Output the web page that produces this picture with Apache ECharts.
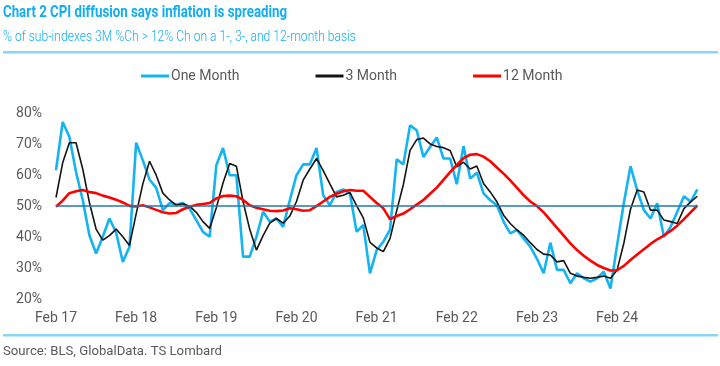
<!DOCTYPE html>
<html><head><meta charset="utf-8">
<script src="https://cdn.jsdelivr.net/npm/echarts@6/dist/echarts.min.js"></script>
<style>html,body{margin:0;padding:0;background:#fff}#c{width:720px;height:366px}</style>
</head><body><div id="c"></div>
<script>
// ---- data ----
const monthNames = ['Jan','Feb','Mar','Apr','May','Jun','Jul','Aug','Sep','Oct','Nov','Dec'];
const categories = [];
for (let k = 0; k < 97; k++) {
  categories.push(monthNames[(1 + k) % 12] + ' ' + (17 + Math.floor((1 + k) / 12)));
}
const seriesNames = ['One Month', '3 Month', '12 Month'];
const oneMonth = [
  61.6,77.2,72.4,61,52,40.6,34.7,40.1,46,41.5,32,36.9,
  70.5,64.8,58.6,55.9,48.7,51,50.5,51,49.2,45.5,41.7,40.1,
  63.2,68.8,60,60,33.7,33.7,40.1,48.2,45,46,43.3,51.9,
  60,63.5,63.5,68.8,53.5,50.3,54.6,55.4,54.1,41.7,43.9,28.3,
  35.8,38.5,42.3,65.1,63.5,76.1,74.5,65.9,69.1,72.2,65.4,65.4,
  57.1,69.4,58.9,60.8,54.1,51.9,50.3,45,41.2,42.3,39.6,36.9,
  33,28.3,38.2,29.4,29.4,25.1,28.3,26.7,25.6,26.7,28.8,23.4,
  37.5,51,62.9,55.2,48.7,46,50.9,40.1,43.3,48.2,53.2,51.4,
  55.4
];
const threeMonth = [
  52.8,64,70.5,70.5,62,51.2,42.6,39,40.5,42.6,40.1,37.3,
  47.5,57.2,64.5,60,54.2,52,50.3,50.8,50,48,45,42.8,
  49.5,57.5,63.8,62.9,51.5,42.5,35.8,40.5,44.5,46,44.5,46.8,
  51.5,58.4,62,65.4,61.5,57.2,53,53.5,54.4,50.2,46.2,38.3,
  36.5,35.3,39.5,48.5,57,68,71.5,72,70.1,69.3,68.9,68,
  62.7,64.2,62,63,57.3,54.6,51.4,47.1,44.4,42.3,40.6,38.2,
  36,34.5,34.2,32,32.4,28.3,27.4,27,26.7,27,27.4,26.7,
  29.4,38,49,55.2,54.6,48.7,48.7,45.5,45,44.4,49.2,51.4,
  53.2
];
const twelveMonth = [
  49.8,51.8,54.2,54.8,55.2,54.6,54.2,53.4,52.8,52.1,51.2,50.1,
  49.9,50.3,49.6,48.8,48,47.6,47.8,49,49.8,50.4,50.7,51,
  52.5,53.3,53.4,53.2,52,50.3,49.5,49,48.5,48.4,48.6,49.3,
  49,48.5,48.7,50,51.5,53,54,54.8,55.2,55,55,53,
  51,49.3,45.8,46.8,47.6,49,50.5,52,54,56,58.5,61,
  63.3,65.5,66.6,66.8,66,64.5,62.5,60.5,58.3,56,53.5,51.5,
  50,48,45.5,43,40.5,38,35.8,34,32.4,31,30,29.2,
  29.3,30.7,32.6,34.4,36.1,37.8,39.3,40.5,42,43.7,45.8,48,
  50.2
];
const yTicks = { min: 20, max: 80, interval: 10 };
const titleText = 'Chart 2 CPI diffusion says inflation is spreading';
const subtitleText = '% of sub-indexes 3M %Ch > 12% Ch on a 1-, 3-, and 12-month basis';
const sourceText = 'Source: BLS, GlobalData. TS Lombard';

// ---- helpers ----
const ctx = document.createElement('canvas').getContext('2d');
function fitScale(text, font, target) {
  ctx.font = font;
  const w = ctx.measureText(text).width;
  return w > 0 ? target / w : 1;
}
const titleFont = 'bold 17px Roboto';
const subFont = '300 15px Roboto';
const srcFont = '13px Roboto';

const chart = echarts.init(document.getElementById('c'));
chart.setOption({
  animation: false,
  backgroundColor: '#fff',
  grid: { left: 56, right: 22.7, top: 113.3, bottom: 67 },
  legend: {
    data: seriesNames,
    left: 136, top: 64,
    itemWidth: 28, itemHeight: 3, itemGap: 76,
    icon: 'rect',
    textStyle: { fontFamily: 'Roboto', fontSize: 14, color: '#595959', padding: [0, 0, 0, -3] }
  },
  xAxis: {
    type: 'category', data: categories, boundaryGap: false,
    axisLine: { show: false }, axisTick: { show: false }, splitLine: { show: false },
    axisLabel: {
      interval: (idx) => idx % 12 === 0 && idx < 96,
      formatter: (v) => v,
      margin: 12, fontFamily: 'Roboto', fontSize: 14, color: '#595959'
    }
  },
  yAxis: {
    type: 'value', min: yTicks.min, max: yTicks.max, interval: yTicks.interval,
    axisLine: { show: false }, axisTick: { show: false }, splitLine: { show: false },
    axisLabel: { formatter: '{value}%', margin: 14, fontFamily: 'Roboto', fontSize: 14, color: '#595959' }
  },
  series: [
    {
      name: 'base', type: 'line', data: [], z: 1, silent: true,
      markLine: {
        silent: true, symbol: ['none', 'none'], label: { show: false },
        lineStyle: { color: '#2078ad', width: 1.5, type: 'solid' },
        data: [{ yAxis: 50 }]
      }
    },
    { name: seriesNames[0], type: 'line', data: oneMonth, z: 2, showSymbol: false,
      lineStyle: { color: '#14b4f2', width: 2.6 }, itemStyle: { color: '#14b4f2' } },
    { name: seriesNames[1], type: 'line', data: threeMonth, z: 3, showSymbol: false,
      lineStyle: { color: '#141414', width: 1.6 }, itemStyle: { color: '#141414' } },
    { name: seriesNames[2], type: 'line', data: twelveMonth, z: 4, showSymbol: false,
      lineStyle: { color: '#ff0000', width: 2.6 }, itemStyle: { color: '#ff0000' } }
  ],
  graphic: [
    { type: 'text', x: 3, y: 13, scaleX: fitScale(titleText, titleFont, 284), originX: 0,
      style: { text: titleText, font: titleFont, fill: '#13aef0', verticalAlign: 'middle' } },
    { type: 'text', x: 3, y: 37, scaleX: fitScale(subtitleText, subFont, 353), originX: 0,
      style: { text: subtitleText, font: subFont, fill: '#13aef0', verticalAlign: 'middle' } },
    { type: 'rect', shape: { x: 3, y: 51, width: 715, height: 2.5 }, style: { fill: '#86d6f5' } },
    { type: 'rect', shape: { x: 3, y: 334, width: 715, height: 2.5 }, style: { fill: '#86d6f5' } },
    { type: 'text', x: 3, y: 352, scaleX: fitScale(sourceText, srcFont, 219), originX: 0,
      style: { text: sourceText, font: srcFont, fill: '#595959', verticalAlign: 'middle' } }
  ]
});
</script></body></html>
